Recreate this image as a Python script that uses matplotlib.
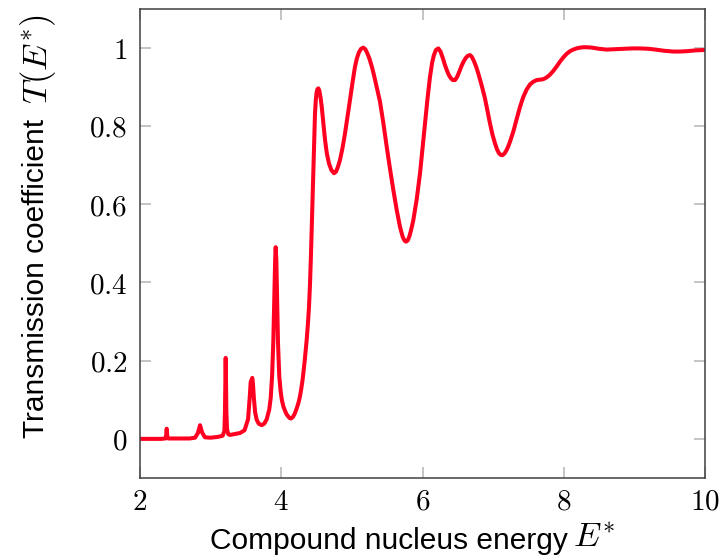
import matplotlib
matplotlib.use("Agg")
import matplotlib.pyplot as plt

plt.rcParams["mathtext.fontset"] = "cm"
plt.rcParams["font.family"] = ["Liberation Sans", "DejaVu Sans"]

# Transmission coefficient T(E*) versus compound nucleus energy E*
energy = [
    2.00, 2.30, 2.360, 2.370, 2.378, 2.386, 2.396, 2.70, 2.78, 2.82, 2.85, 2.88,
    2.92, 3.00, 3.10, 3.17, 3.195, 3.203, 3.209, 3.213, 3.217, 3.223, 3.232, 3.25,
    3.274, 3.416, 3.48, 3.53, 3.555, 3.567, 3.578, 3.590, 3.600, 3.612, 3.63,
    3.652, 3.68, 3.723, 3.76, 3.794, 3.83, 3.851, 3.870, 3.887, 3.902, 3.914,
    3.921, 3.930, 3.942, 3.954, 3.972, 3.992, 4.01, 4.03, 4.053, 4.075, 4.10,
    4.12, 4.138, 4.165, 4.19, 4.215, 4.242, 4.262, 4.28, 4.30, 4.313, 4.335,
    4.36, 4.378, 4.393, 4.407, 4.42, 4.43, 4.44, 4.45, 4.459, 4.468, 4.478,
    4.49, 4.50, 4.51, 4.525, 4.54, 4.56, 4.573, 4.595, 4.62, 4.645, 4.676,
    4.71, 4.747, 4.775, 4.80, 4.832, 4.868, 4.903, 4.94, 4.973, 5.01, 5.044,
    5.07, 5.10, 5.13, 5.162, 5.19, 5.22, 5.25, 5.28, 5.31, 5.35, 5.398, 5.445,
    5.493, 5.54, 5.587, 5.635, 5.681, 5.72, 5.745, 5.766, 5.79, 5.815, 5.84,
    5.87, 5.92, 5.965, 6.00, 6.035, 6.07, 6.106, 6.135, 6.16, 6.19, 6.224,
    6.255, 6.29, 6.315, 6.343, 6.37, 6.40, 6.43, 6.46, 6.49, 6.52, 6.55, 6.578,
    6.61, 6.64, 6.673, 6.70, 6.73, 6.76, 6.79, 6.84, 6.885, 6.92, 6.956, 6.99,
    7.027, 7.055, 7.08, 7.105, 7.13, 7.16, 7.19, 7.215, 7.24, 7.29, 7.334,
    7.38, 7.427, 7.475, 7.522, 7.57, 7.617, 7.66, 7.70, 7.73, 7.758, 7.80,
    7.85, 7.90, 7.95, 7.994, 8.04, 8.09, 8.135, 8.18, 8.23, 8.28, 8.325, 8.40,
    8.50, 8.608, 8.72, 8.85, 8.97, 9.08, 9.20, 9.30, 9.42, 9.55, 9.65, 9.75,
    9.87, 10.0,
]
transmission = [
    0.000, 0.000, 0.001, 0.008, 0.026, 0.008, 0.001, 0.001, 0.003, 0.015, 0.035, 0.016,
    0.004, 0.003, 0.005, 0.008, 0.020, 0.070, 0.160, 0.207, 0.160, 0.070, 0.025, 0.012,
    0.010, 0.015, 0.022, 0.050, 0.110, 0.145, 0.150, 0.156, 0.140, 0.105, 0.068,
    0.049, 0.039, 0.035, 0.039, 0.050, 0.075, 0.105, 0.160, 0.245, 0.370, 0.460,
    0.490, 0.460, 0.350, 0.245, 0.160, 0.120, 0.098, 0.083, 0.072, 0.063, 0.057,
    0.053, 0.052, 0.056, 0.064, 0.076, 0.091, 0.106, 0.124, 0.148, 0.168, 0.205,
    0.253, 0.295, 0.338, 0.395, 0.466, 0.530, 0.593, 0.660, 0.721, 0.780, 0.832,
    0.868, 0.884, 0.893, 0.896, 0.890, 0.868, 0.849, 0.810, 0.764, 0.730, 0.704,
    0.687, 0.679, 0.683, 0.694, 0.713, 0.744, 0.781, 0.825, 0.866, 0.912, 0.951,
    0.972, 0.988, 0.997, 1.000, 0.996, 0.985, 0.971, 0.953, 0.932, 0.900, 0.862, 0.808,
    0.747, 0.690, 0.636, 0.585, 0.542, 0.516, 0.507, 0.504, 0.507, 0.518, 0.535,
    0.559, 0.615, 0.679, 0.742, 0.806, 0.868, 0.925, 0.960, 0.980, 0.994, 0.998,
    0.990, 0.972, 0.957, 0.943, 0.931, 0.922, 0.917, 0.917, 0.925, 0.938, 0.952, 0.963,
    0.973, 0.979, 0.981, 0.976, 0.965, 0.951, 0.934, 0.902, 0.870, 0.838, 0.806, 0.778,
    0.755, 0.740, 0.731, 0.726, 0.725, 0.729, 0.738, 0.748, 0.760, 0.788, 0.818,
    0.848, 0.874, 0.893, 0.906, 0.913, 0.917, 0.918, 0.919, 0.921, 0.924, 0.930,
    0.940, 0.952, 0.965, 0.975, 0.984, 0.991, 0.995, 0.998, 1.000, 1.001, 1.001, 1.000,
    0.997, 0.995, 0.996, 0.997, 0.998, 0.998, 0.997, 0.995, 0.992, 0.990, 0.990, 0.991,
    0.993, 0.994,
]

xticks = [2, 4, 6, 8, 10]
xtick_labels = ["2", "4", "6", "8", "10"]
yticks = [0, 0.2, 0.4, 0.6, 0.8, 1.0]
ytick_labels = ["0", "0.2", "0.4", "0.6", "0.8", "1"]

W, H = 722, 556
fig = plt.figure(figsize=(W / 100, H / 100), dpi=100)
ax = fig.add_axes([140 / W, 78 / H, 565 / W, 469.5 / H])

ax.plot(energy, transmission, color="#ff0020", lw=2.9,
        solid_joinstyle="round", solid_capstyle="round")

ax.set_xlim(2, 10)
ax.set_ylim(-0.1, 1.1)
ax.set_xticks(xticks, labels=[f"${t}$" for t in xtick_labels])
ax.set_yticks(yticks, labels=[f"${t}$" for t in ytick_labels])
ax.tick_params(axis="both", direction="in", length=8, width=1.1,
               color="#b4b4b4", labelsize=21, top=True, right=True)
ax.tick_params(axis="x", pad=7)
ax.tick_params(axis="y", pad=9)
for sp in ax.spines.values():
    sp.set_color("#404040")
    sp.set_linewidth(1.1)

# x-axis label: words plus a slightly larger math symbol
fig.text(568 / W, 1 - 541 / H, "Compound nucleus energy",
         ha="right", va="center", fontsize=21.5)
fig.text(573 / W, 1 - 538 / H, "$E^{*}$",
         ha="left", va="center", fontsize=25)

# y-axis label, rotated
fig.text(36 / W, 1 - 438 / H, "Transmission coefficient",
         ha="center", va="bottom", rotation=90, fontsize=21.5)
fig.text(38 / W, 1 - 14 / H, "$T(E^{*})$",
         ha="center", va="top", rotation=90, fontsize=25)

fig.savefig("out.png", dpi=100)
